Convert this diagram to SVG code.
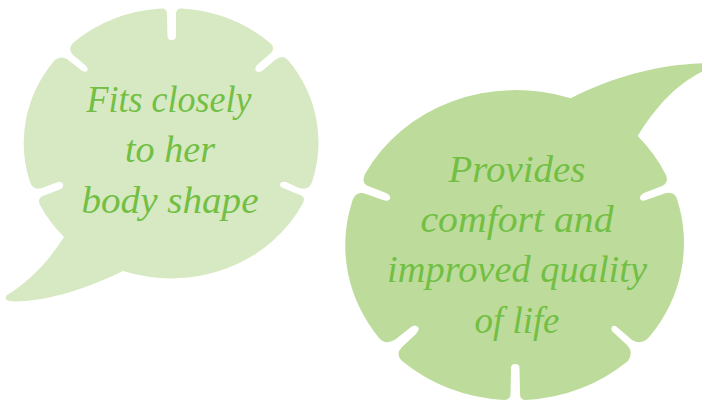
<svg xmlns="http://www.w3.org/2000/svg" width="702" height="400" viewBox="0 0 702 400">
<style>
text{font-family:"Liberation Serif",serif;font-style:italic;font-size:38px;fill:#72bf44;text-anchor:middle}
</style>
<rect width="702" height="400" fill="#ffffff"/>
<g id="bubble-left">
<path fill="#d7e9c2" d="M176 14Q176 8 182 8.500A147 135 0 0 1 269 42Q276 47 271 53L258 64Q254 68 256 71Q259 73 262 71L275 60Q283 54 288 60A147 135 0 0 1 312 182Q309 191 299 188L286 182Q281 181 280 184Q280 187 283 188L300 195Q306 197 303 203A147 135 0 0 1 123 271C88 288 50 301 14 301.500Q2 301 7 295C30 281 48 262 64 237A147 135 0 0 1 40 205Q37 198 43 196L61 189Q64 187 63 184Q61 181 58 182L42 188Q33 191 30 182A147 135 0 0 1 54 61Q60 55 67 59L81 70Q85 73 87 71Q89 68 85 65L73 55Q67 49 74 42A147 135 0 0 1 161 8.500Q167 8 167 14L167.500 36Q167.500 40 171.700 40Q176 40 176 36Z"/>
<text x="169" y="112" textLength="165" lengthAdjust="spacingAndGlyphs">Fits closely</text>
<text x="170" y="162" textLength="90" lengthAdjust="spacingAndGlyphs">to her</text>
<text x="170" y="213" textLength="177" lengthAdjust="spacingAndGlyphs">body shape</text>
</g>
<g id="bubble-right">
<path fill="#bddc9b" d="M570.700 98.300C610 78 655 65 702 63.300L702 71.700C675 85 655 108 637.700 136A170 155 0 0 1 666 175Q669 183 662 186L644 193Q639 196 640 199Q642 202 646 200L663 194Q674 190 677 199A170 155 0 0 1 650 336Q642 346 632 340L618 328Q614 324 612 327Q610 330 614 333L627 345Q634 352 628 361A170 155 0 0 1 526 400Q520 400 520 394L519.500 368Q519.500 364 515.200 364Q511 364 511 368L510.500 394Q510.500 400 504 400A170 155 0 0 1 402 361Q395 354 402 347L416 334Q420 330 418 327Q415 324 411 327L396 339Q386 346 379 338A170 155 0 0 1 351.700 203Q355 190 366 194L383 200Q388 202 390 199Q391 195 386 193L368 186Q361 183 365 174A170 155 0 0 1 570.700 98.300Z"/>
<text x="517" y="182" textLength="137" lengthAdjust="spacingAndGlyphs">Provides</text>
<text x="517" y="232" textLength="193" lengthAdjust="spacingAndGlyphs">comfort and</text>
<text x="517" y="282" textLength="260" lengthAdjust="spacingAndGlyphs">improved quality</text>
<text x="517" y="333" textLength="85" lengthAdjust="spacingAndGlyphs">of life</text>
</g>
</svg>
